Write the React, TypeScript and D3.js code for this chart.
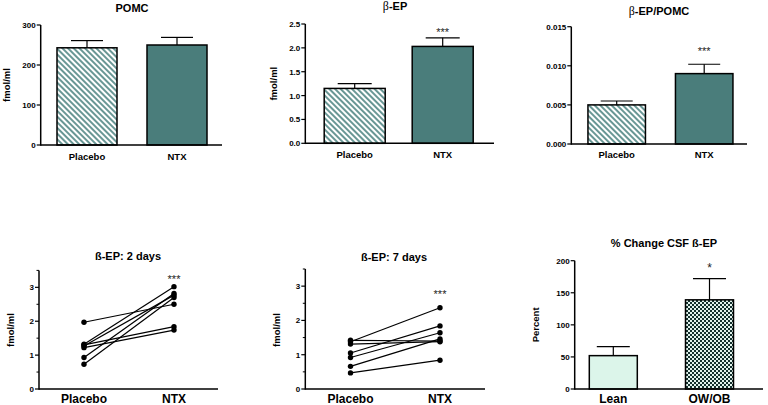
import React from "react";
import * as d3 from "d3";

// ---------- data ----------
const groupCats = ["Placebo", "NTX"];
const pomcMeans = [243, 250];
const pomcErr = [18, 19];
const bepMeans = [1.15, 2.03];
const bepErr = [0.1, 0.18];
const ratioMeans = [0.005, 0.009];
const ratioErr = [0.0005, 0.0012];
const pctCats = ["Lean", "OW/OB"];
const pctMeans = [52, 139];
const pctErr = [14, 33];

const day2Placebo = [1.97, 1.32, 1.3, 1.22, 1.27, 0.93, 0.73];
const day2NTX = [2.5, 3.02, 1.84, 1.74, 2.77, 2.82, 2.7];
const day7Placebo = [1.38, 1.42, 1.31, 1.05, 0.92, 0.66, 0.47];
const day7NTX = [2.37, 1.4, 1.38, 1.84, 1.64, 1.46, 0.84];

const pomcTicks = [0, 100, 200, 300];
const bepTicks = [0, 0.5, 1, 1.5, 2, 2.5];
const ratioTicks = [0, 0.005, 0.01, 0.015];
const pctTicks = [0, 50, 100, 150, 200];
const pairTicks = [0, 1, 2, 3];
const pairMinor = [0.5, 1.5, 2.5, 3.5];

const FONT = "'Liberation Sans', Arial, sans-serif";
const TEAL = "#4a7d7b";

function YAxis({ y, ticks, fmt, ax, top, minor, fs = 8 }: any) {
  return (
    <g>
      <line x1={ax} x2={ax} y1={y(0) + 0.75} y2={top} stroke="#000" strokeWidth={1.5} />
      {ticks.map((t: number) => (
        <g key={t}>
          <line x1={ax - 4} x2={ax} y1={y(t)} y2={y(t)} stroke="#000" strokeWidth={1.2} />
          <text x={ax - 5} y={y(t) + 3} textAnchor="end" fontSize={fs} fontWeight="bold" fontFamily={FONT}>
            {fmt(t)}
          </text>
        </g>
      ))}
      {(minor || []).map((t: number) => (
        <line key={"m" + t} x1={ax - 2.5} x2={ax} y1={y(t)} y2={y(t)} stroke="#000" strokeWidth={1} />
      ))}
    </g>
  );
}

function BarPanel({ f, cats, means, errs, domainMax, ticks, fmt, fills, barW, capW, title, yLabel, yLabelX, stars, catFs, titleX, titleY, catY, titleNode }: any) {
  const y = d3.scaleLinear().domain([0, domainMax]).range([f.y0, f.yTop]);
  const x = d3.scalePoint<string>().domain(cats).range([f.c0, f.c1]);
  return (
    <g>
      {titleNode ? (
        titleNode
      ) : (
        <text x={titleX} y={titleY} textAnchor="middle" fontSize={11} fontWeight="bold" fontFamily={FONT}>
          {title}
        </text>
      )}
      {cats.map((c: string, i: number) => {
        const cx = x(c)!;
        const top = y(means[i]);
        const et = y(means[i] + errs[i]);
        return (
          <g key={c}>
            <line x1={cx} x2={cx} y1={top} y2={et} stroke="#000" strokeWidth={1.2} />
            <line x1={cx - capW / 2} x2={cx + capW / 2} y1={et} y2={et} stroke="#000" strokeWidth={1.2} />
            <rect x={cx - barW / 2} y={top} width={barW} height={f.y0 - top} fill={fills[i]} stroke="#000" strokeWidth={1.5} />
            {stars[i] ? (
              <text x={cx} y={stars[i].y} textAnchor="middle" fontSize={stars[i].fs} fill="#222" fontFamily={FONT}>
                {stars[i].t}
              </text>
            ) : null}
            <text x={cx} y={catY} textAnchor="middle" fontSize={catFs} fontWeight="bold" fontFamily={FONT}>
              {c}
            </text>
          </g>
        );
      })}
      <line x1={f.ax} x2={f.axEnd} y1={f.y0} y2={f.y0} stroke="#000" strokeWidth={1.5} />
      <YAxis y={y} ticks={ticks} fmt={fmt} ax={f.ax} top={f.yTop} />
      {yLabel ? (
        <text transform={`translate(${yLabelX},${(f.y0 + f.yTop) / 2}) rotate(-90)`} textAnchor="middle" fontSize={9.5} fontWeight="bold" fontFamily={FONT}>
          {yLabel}
        </text>
      ) : null}
    </g>
  );
}

function PairPanel({ f, cats, a, b, title, titleX, titleY, yLabelX, starY }: any) {
  const y = d3.scaleLinear().domain([0, 3.5]).range([f.y0, f.yTop]);
  const x = d3.scalePoint<string>().domain(cats).range([f.c0, f.c1]);
  const line = d3
    .line<[number, number]>()
    .x((d) => d[0])
    .y((d) => d[1]);
  return (
    <g>
      <text x={titleX} y={titleY} textAnchor="middle" fontSize={11} fontWeight="bold" fontFamily={FONT}>
        {title}
      </text>
      {a.map((v: number, i: number) => (
        <path key={"l" + i} d={line([[x(cats[0])!, y(v)], [x(cats[1])!, y(b[i])]])!} stroke="#000" strokeWidth={1.2} fill="none" />
      ))}
      {a.map((v: number, i: number) => (
        <g key={"p" + i}>
          <circle cx={x(cats[0])!} cy={y(v)} r={2.7} fill="#000" />
          <circle cx={x(cats[1])!} cy={y(b[i])} r={2.7} fill="#000" />
        </g>
      ))}
      <text x={x(cats[1])!} y={starY} textAnchor="middle" fontSize={11} fill="#222" fontFamily={FONT}>
        ***
      </text>
      <line x1={f.ax} x2={f.axEnd} y1={f.y0} y2={f.y0} stroke="#000" strokeWidth={1.5} />
      <YAxis y={y} ticks={pairTicks} fmt={(t: number) => String(t)} ax={f.ax} top={f.yTop} minor={pairMinor} />
      <text transform={`translate(${yLabelX},${f.y0 - 59}) rotate(-90)`} textAnchor="middle" fontSize={9.5} fontWeight="bold" fontFamily={FONT}>
        fmol/ml
      </text>
      {cats.map((c: string) => (
        <text key={c} x={x(c)!} y={403} textAnchor="middle" fontSize={12} fontWeight="bold" fontFamily={FONT}>
          {c}
        </text>
      ))}
    </g>
  );
}

export default function App() {
  const hatch = "url(#hatch)";
  const fmt3 = d3.format(".3f");
  const fmt1 = d3.format(".1f");
  return (
    <svg width={768} height={405} style={{ position: "absolute", left: 0, top: 0, background: "#fff" }}>
      <defs>
        <pattern id="hatch" patternUnits="userSpaceOnUse" width={4} height={4} patternTransform="rotate(45)">
          <rect width={4} height={4} fill="#fff" />
          <line x1={0} x2={4} y1={2} y2={2} stroke="#4e8482" strokeWidth={1.7} />
        </pattern>
        <pattern id="check" patternUnits="userSpaceOnUse" width={4} height={4}>
          <rect width={4} height={4} fill="#e2f2ec" />
          <rect x={0} y={0} width={2} height={2} fill="#14302d" />
          <rect x={2} y={2} width={2} height={2} fill="#14302d" />
        </pattern>
      </defs>
      <rect width={768} height={405} fill="#fff" />

      <BarPanel
        f={{ ax: 40.7, axEnd: 222, y0: 145, yTop: 25, c0: 87, c1: 177 }}
        cats={groupCats}
        means={pomcMeans}
        errs={pomcErr}
        domainMax={300}
        ticks={pomcTicks}
        fmt={(t: number) => String(t)}
        fills={[hatch, TEAL]}
        barW={60}
        capW={32}
        title="POMC"
        titleX={132}
        titleY={12}
        yLabel="fmol/ml"
        yLabelX={10}
        stars={[null, null]}
        catFs={9.5}
        catY={160}
      />
      <BarPanel
        f={{ ax: 305.3, axEnd: 494, y0: 143.3, yTop: 24, c0: 354.7, c1: 442.7 }}
        cats={groupCats}
        means={bepMeans}
        errs={bepErr}
        domainMax={2.5}
        ticks={bepTicks}
        fmt={fmt1}
        fills={[hatch, TEAL]}
        barW={61}
        capW={34}
        titleNode={
          <text x={395} y={10} textAnchor="middle" fontSize={11} fontWeight="bold" fontFamily={FONT}>
            <tspan fontFamily="'Liberation Serif', serif" fontWeight="normal" fontSize={12}>β</tspan>-EP
          </text>
        }
        yLabel="fmol/ml"
        yLabelX={277}
        stars={[null, { t: "***", y: 36, fs: 11 }]}
        catFs={9.5}
        catY={158}
      />
      <BarPanel
        f={{ ax: 571.3, axEnd: 747, y0: 144, yTop: 26.7, c0: 616.7, c1: 704.2 }}
        cats={groupCats}
        means={ratioMeans}
        errs={ratioErr}
        domainMax={0.015}
        ticks={ratioTicks}
        fmt={fmt3}
        fills={[hatch, TEAL]}
        barW={57.5}
        capW={32}
        titleNode={
          <text x={659} y={14.5} textAnchor="middle" fontSize={11} fontWeight="bold" fontFamily={FONT}>
            <tspan fontFamily="'Liberation Serif', serif" fontWeight="normal" fontSize={12}>β</tspan>-EP/POMC
          </text>
        }
        yLabel={null}
        stars={[null, { t: "***", y: 55, fs: 11 }]}
        catFs={9.5}
        catY={157.5}
      />

      <PairPanel
        f={{ ax: 39, axEnd: 218, y0: 389, yTop: 270.4, c0: 84, c1: 174 }}
        cats={groupCats}
        a={day2Placebo}
        b={day2NTX}
        title="ß-EP: 2 days"
        titleX={128}
        titleY={259.5}
        yLabelX={14}
        starY={283}
      />
      <PairPanel
        f={{ ax: 305.3, axEnd: 485, y0: 389, yTop: 269, c0: 350.5, c1: 440 }}
        cats={groupCats}
        a={day7Placebo}
        b={day7NTX}
        title="ß-EP: 7 days"
        titleX={394}
        titleY={260.5}
        yLabelX={280}
        starY={298}
      />
      <BarPanel
        f={{ ax: 574.7, axEnd: 763, y0: 389, yTop: 260.7, c0: 613.3, c1: 709.5 }}
        cats={pctCats}
        means={pctMeans}
        errs={pctErr}
        domainMax={200}
        ticks={pctTicks}
        fmt={(t: number) => String(t)}
        fills={["#dcf5ea", "url(#check)"]}
        barW={48}
        capW={33}
        title="% Change CSF ß-EP"
        titleX={664}
        titleY={247}
        yLabel="Percent"
        yLabelX={539}
        stars={[null, { t: "*", y: 272, fs: 12 }]}
        catFs={12}
        catY={403}
      />
    </svg>
  );
}
